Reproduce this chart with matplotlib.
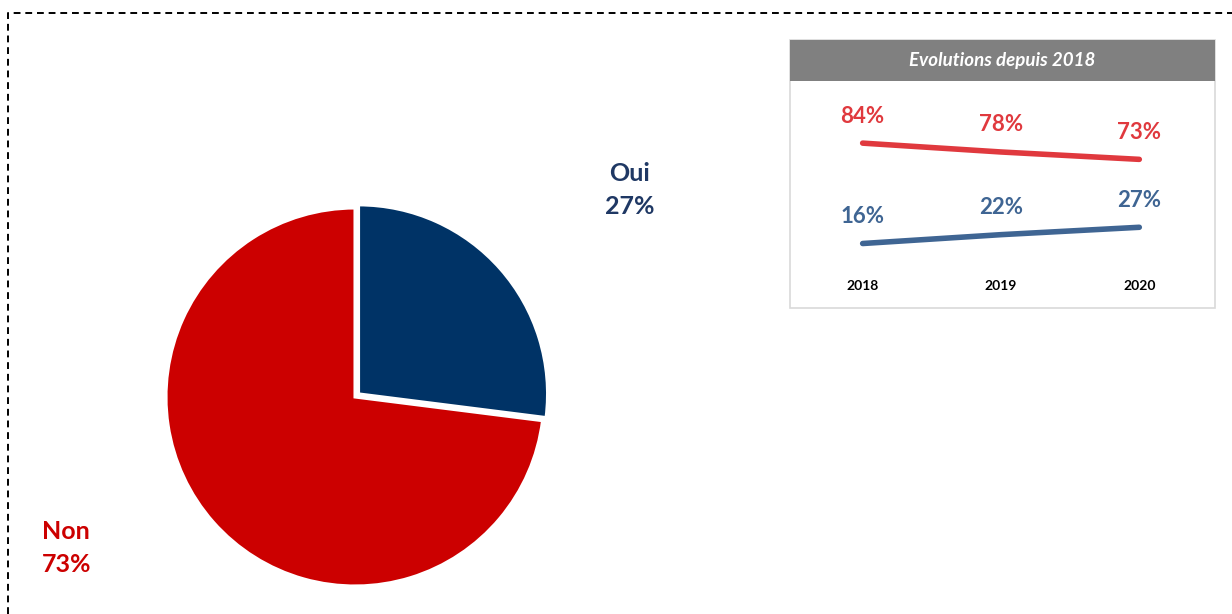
import matplotlib
matplotlib.use("Agg")
import matplotlib.pyplot as plt
from matplotlib.patches import Rectangle
from matplotlib.lines import Line2D

plt.rcParams['font.family'] = ['Lato', 'DejaVu Sans']

# ---- data ----
pie_labels = ["Oui", "Non"]
pie_values = [27, 73]
pie_colors = ["#003366", "#CC0000"]
label_colors = ["#1F3864", "#CC0000"]

years = [2018, 2019, 2020]
non_series = [84, 78, 73]
oui_series = [16, 22, 27]
inset_title = "Evolutions depuis 2018"

W, H = 1232, 614
fig = plt.figure(figsize=(W / 100, H / 100), dpi=100)

def fx(px):
    return px / W

def fy(py):
    return 1 - py / H

# dashed border
fig.add_artist(Line2D([fx(8), fx(8), fx(1232)], [fy(614), fy(13), fy(13)],
                      transform=fig.transFigure, color="black", lw=1.4,
                      linestyle=(0, (3.5, 2.5))))

# ---- pie ----
cx, cy, r = 355, 397, 189
ax = fig.add_axes([fx(cx - r), fy(cy + r), (2 * r) / W, (2 * r) / H])
ax.pie(pie_values, colors=pie_colors, startangle=90, counterclock=False,
       explode=[0.025, 0], radius=1,
       wedgeprops=dict(edgecolor="white", linewidth=2.2))
ax.set_xlim(-1, 1)
ax.set_ylim(-1, 1)
ax.set_aspect("auto")
ax.axis("off")

# pie labels
fig.text(fx(630), fy(190), f"{pie_labels[0]}\n{pie_values[0]}%", ha="center",
         va="center", fontsize=18, fontweight="bold", color=label_colors[0],
         linespacing=1.55)
fig.text(fx(42), fy(548), f"{pie_labels[1]}\n{pie_values[1]}%", ha="left",
         va="center", fontsize=18, fontweight="bold", color=label_colors[1],
         linespacing=1.55)

# ---- inset ----
bx0, bx1, by0, bhead, by1 = 790, 1215, 40, 81, 308
fig.add_artist(Rectangle((fx(bx0), fy(by1)), (bx1 - bx0) / W, (by1 - by0) / H,
                         transform=fig.transFigure, facecolor="white",
                         edgecolor="#D9D9D9", lw=1.2, zorder=1))
fig.add_artist(Rectangle((fx(bx0), fy(bhead)), (bx1 - bx0) / W, (bhead - by0) / H,
                         transform=fig.transFigure, facecolor="#808080",
                         edgecolor="none", zorder=2))
fig.text(fx((bx0 + bx1) / 2), fy((by0 + bhead) / 2), inset_title, ha="center",
         va="center", fontsize=13.5, fontweight="bold", fontstyle="italic",
         color="white", zorder=3)

iax = fig.add_axes([fx(bx0 + 1), fy(by1 - 1), (bx1 - bx0 - 2) / W, (by1 - bhead - 2) / H])
iax.set_zorder(5)
iax.patch.set_alpha(0)
iax.set_xlim(2017.482, 2020.54)
iax.set_ylim(-27, 125.4)
iax.axis("off")
iax.plot(years, non_series, color="#E0393E", lw=4, solid_capstyle="round")
iax.plot(years, oui_series, color="#3F6593", lw=4, solid_capstyle="round")
for x, v in zip(years, non_series):
    iax.annotate(f"{v}%", (x, v), xytext=(0, 19.5), textcoords="offset points",
                 ha="center", va="center", fontsize=16, fontweight="bold",
                 color="#E0393E")
for x, v in zip(years, oui_series):
    iax.annotate(f"{v}%", (x, v), xytext=(0, 19.5), textcoords="offset points",
                 ha="center", va="center", fontsize=16, fontweight="bold",
                 color="#3F6593")
for x in years:
    iax.text(x, 0.093, str(x), transform=iax.get_xaxis_transform(), ha="center",
             va="center", fontsize=10, fontweight="bold", color="black")

fig.savefig("out.png", dpi=100)
